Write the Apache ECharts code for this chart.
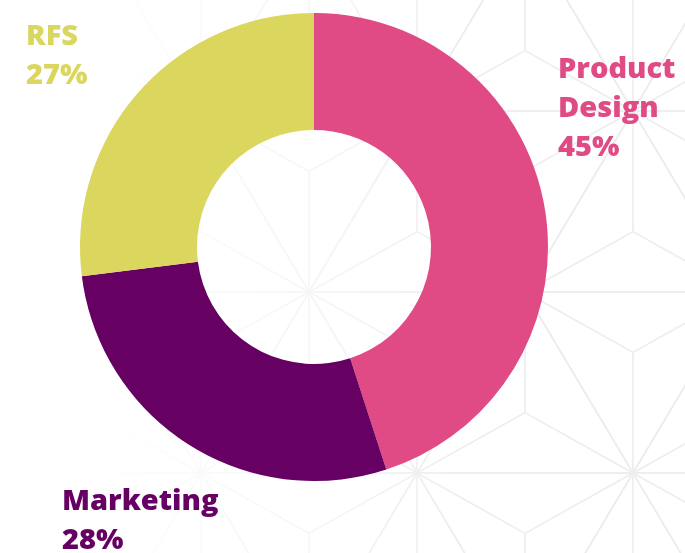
<!DOCTYPE html>
<html>
<head>
<meta charset="utf-8">
<script src="https://cdn.jsdelivr.net/npm/echarts@6/dist/echarts.min.js"></script>
<style>
  html, body { margin: 0; padding: 0; background: #ffffff; }
  #chart { width: 685px; height: 553px; }
</style>
</head>
<body>
<div id="chart"></div>
<script>
// Budget split shown as a donut
const categories = ['Product Design', 'Marketing', 'RFS'];
const shares = [45, 28, 27];
const colors = ['#E04A85', '#660062', '#DBD65E'];

// Where each label block sits (left / top, in px)
const labelSpots = [
  { x: 558, y: 50 },
  { x: 62, y: 482 },
  { x: 26, y: 17 }
];

// Faint hemp-leaf lattice behind the chart, fading out towards the left
function latticeElements() {
  const w = 216, h = 181, ox = 417, oy = 473;
  const stroke = { stroke: '#ededed', lineWidth: 1.6 };
  const els = [];
  const tri = (a, b, c) => {
    const cx = (a[0] + b[0] + c[0]) / 3, cy = (a[1] + b[1] + c[1]) / 3;
    els.push({ type: 'polygon', z: 0, silent: true,
      shape: { points: [a, b, c] }, style: Object.assign({ fill: null }, stroke) });
    [a, b, c].forEach(p => els.push({ type: 'line', z: 0, silent: true,
      shape: { x1: cx, y1: cy, x2: p[0], y2: p[1] }, style: stroke }));
  };
  for (let j = -4; j <= 1; j++) {
    const y = oy + j * h;
    const par = ((j % 2) + 2) % 2;
    for (let i = -3; i <= 3; i++) {
      const x = ox + i * w + par * w / 2;
      tri([x, y], [x + w, y], [x + w / 2, y + h]);
      tri([x, y], [x - w / 2, y + h], [x + w / 2, y + h]);
    }
  }
  els.push({
    type: 'rect', z: 1, silent: true,
    shape: { x: 0, y: 0, width: 685, height: 553 },
    style: {
      fill: new echarts.graphic.LinearGradient(0, 0, 1, 0, [
        { offset: 0, color: 'rgba(255,255,255,1)' },
        { offset: 0.12, color: 'rgba(255,255,255,1)' },
        { offset: 0.5, color: 'rgba(255,255,255,0.45)' },
        { offset: 0.7, color: 'rgba(255,255,255,0)' },
        { offset: 1, color: 'rgba(255,255,255,0)' }
      ])
    }
  });
  return els;
}

const chart = echarts.init(document.getElementById('chart'), null, { renderer: 'canvas' });

chart.setOption({
  backgroundColor: '#ffffff',
  animation: false,
  graphic: { elements: latticeElements() },
  series: [{
    type: 'pie',
    z: 5,
    center: [314, 247],
    radius: [117, 234],
    startAngle: 90,
    clockwise: true,
    avoidLabelOverlap: false,
    data: categories.map((name, i) => ({
      name,
      value: shares[i],
      itemStyle: { color: colors[i] },
      label: { color: colors[i] }
    })),
    itemStyle: { borderWidth: 0 },
    label: {
      show: true,
      position: 'outside',
      fontFamily: 'Open Sans',
      fontWeight: 800,
      fontSize: 29,
      lineHeight: 39,
      formatter: p => p.name.split(' ').join('\n') + '\n' + p.value + '%'
    },
    labelLine: { show: false },
    labelLayout: p => ({
      x: labelSpots[p.dataIndex].x,
      y: labelSpots[p.dataIndex].y,
      align: 'left',
      verticalAlign: 'top'
    })
  }]
});
</script>
</body>
</html>
